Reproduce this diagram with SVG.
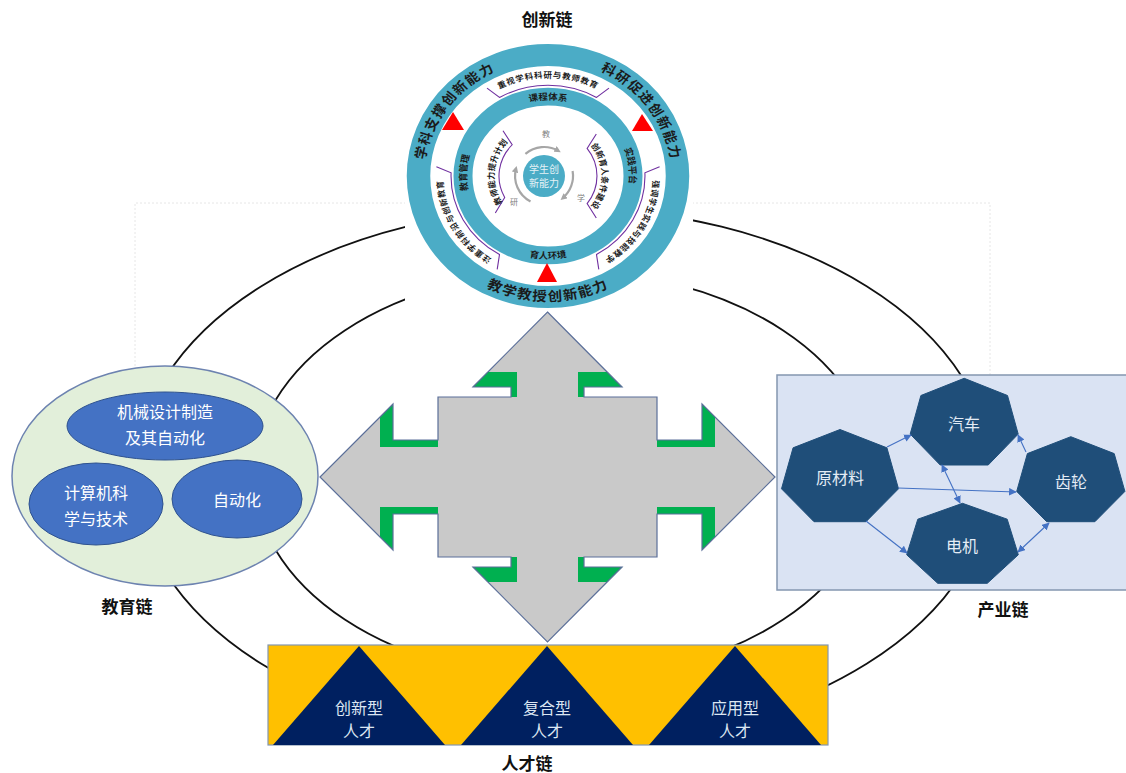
<svg xmlns="http://www.w3.org/2000/svg" width="1126" height="773" viewBox="0 0 1126 773">
<defs>
<style>
text{font-family:"Noto Sans CJK SC","Noto Sans",sans-serif;}
.chain{font-size:17px;font-weight:bold;fill:#111;text-anchor:middle}
.rl{font-weight:bold;fill:#1b1b1b;text-anchor:middle}
.tab{fill:none;stroke:#7030a0;stroke-width:1.1}
.red{fill:#ff0000}
.edu{fill:#4472c4;stroke:#2f528f;stroke-width:1}
.wt{fill:#ffffff;font-size:16px;text-anchor:middle}
.hept{fill:#1f4e79;stroke:#1f4e79;stroke-width:1}
.ht{fill:#e4ecf5;font-size:16px;text-anchor:middle}
.lnk{stroke:#4472c4;stroke-width:1.1;fill:none}
.ell{fill:none;stroke:#111;stroke-width:1.8}
.tal{fill:#002060}
.tt{fill:#dce6f2;font-size:16px;text-anchor:middle}
.grn{fill:#00b050}
.carc{fill:none;stroke:#a6a6a6;stroke-width:2.2}
.cl{font-size:8px;fill:#7f7f7f;text-anchor:middle}
</style>
<marker id="ah" viewBox="0 0 10 10" refX="9" refY="5" markerWidth="7" markerHeight="7" orient="auto-start-reverse"><path d="M0,0 L10,5 L0,10 z" fill="#4472c4"/></marker>
<marker id="ga" viewBox="0 0 10 10" refX="6" refY="5" markerWidth="3" markerHeight="3" orient="auto"><path d="M0,0 L10,5 L0,10 z" fill="#a6a6a6"/></marker>
<path id="pl" d="M -122.1 21.5 A 124 124 0 0 1 -15.1 -123.1"/>
<path id="pr" d="M 15.1 -123.1 A 124 124 0 0 1 122.1 21.5"/>
<path id="pb" d="M -116 67 A 134 134 0 0 0 116 67"/>
<path id="pmt" d="M -52.3 -62.4 A 81.4 81.4 0 0 1 52.3 -62.4"/>
<path id="pmr" d="M 52.3 -62.4 A 81.4 81.4 0 0 1 66.7 46.7"/>
<path id="pml" d="M -66.7 46.7 A 81.4 81.4 0 0 1 -62.4 -52.3"/>
<path id="pmb" d="M -67.9 57 A 88.6 88.6 0 0 0 67.9 57"/>
<path id="pt1" d="M -80.4 -67.5 A 105 105 0 0 1 80.4 -67.5"/>
<path id="pt2" d="M 98.7 -35.9 A 105 105 0 0 1 18.2 103.4"/>
<path id="pt3" d="M -18.2 103.4 A 105 105 0 0 1 -98.7 -35.9"/>
<path id="pil" d="M -38 38 A 53.8 53.8 0 0 1 -30.9 -44.1"/>
<path id="pir" d="M 34.6 -41.2 A 53.8 53.8 0 0 1 34.6 41.2"/>
</defs>

<path d="M 135 370 V 203 H 990 V 375" fill="none" stroke="#e6e6e6" stroke-width="1" stroke-dasharray="2 2"/>

<g id="connectors">
  <ellipse class="ell" cx="564" cy="475" rx="428" ry="267"/>
  <ellipse class="ell" cx="564" cy="475" rx="310" ry="204.5"/>
</g>

<g id="innovation-chain">
  <rect x="405" y="38" width="288" height="279" fill="#ffffff"/>
  <g transform="translate(548,176) scale(1,0.935)">
    <circle r="129.5" fill="none" stroke="#4bacc6" stroke-width="23.5"/>
    <circle r="85" fill="none" stroke="#4bacc6" stroke-width="19"/>
    <text class="rl" font-size="14" letter-spacing="1.5"><textPath href="#pl" startOffset="50%">学科支撑创新能力</textPath></text>
    <text class="rl" font-size="14" letter-spacing="1.5"><textPath href="#pr" startOffset="50%">科研促进创新能力</textPath></text>
    <text class="rl" font-size="14.5" letter-spacing="1.5"><textPath href="#pb" startOffset="50%">教学教授创新能力</textPath></text>
    <text class="rl" font-size="9.5"><textPath href="#pmt" startOffset="50%">课程体系</textPath></text>
    <text class="rl" font-size="9.5"><textPath href="#pmr" startOffset="50%">实践平台</textPath></text>
    <text class="rl" font-size="9.5"><textPath href="#pml" startOffset="50%">教育管理</textPath></text>
    <text class="rl" font-size="9.5"><textPath href="#pmb" startOffset="50%">育人环境</textPath></text>
    <path class="tab" d="M -61 -93.9 L -48.5 -84 A 97 97 0 0 1 48.5 -84 L 61 -93.9"/>
    <path class="tab" d="M 111.6 -9.8 L 96.9 -3.4 A 97 97 0 0 1 48.5 84 L 50.8 99.8"/>
    <path class="tab" d="M -50.8 99.8 L -48.5 84 A 97 97 0 0 1 -96.9 -3.4 L -111.6 -9.8"/>
    <text class="rl" font-size="8.5" letter-spacing="0.7"><textPath href="#pt1" startOffset="50%">重视学科科研与教师教育</textPath></text>
    <text class="rl" font-size="8.5" letter-spacing="0.7"><textPath href="#pt2" startOffset="50%">强调学生实践与技能教学</textPath></text>
    <text class="rl" font-size="8.5" letter-spacing="0.7"><textPath href="#pt3" startOffset="50%">注重学科前沿与创新教育</textPath></text>
    <path class="tab" d="M -52.7 39.7 L -43.3 23 A 49 49 0 0 1 -35.8 -33.4 L -45 -48.3"/>
    <path class="tab" d="M 48.3 -45 L 39.1 -29.5 A 49 49 0 0 1 39.1 29.5 L 48.3 45"/>
    <text class="rl" font-size="8.5" letter-spacing="0.3"><textPath href="#pil" startOffset="50%">教师能力提升计划</textPath></text>
    <text class="rl" font-size="8.5" letter-spacing="0.3"><textPath href="#pir" startOffset="50%">创新育人条件建设</textPath></text>
  </g>
  <polygon class="red" points="453,112 442,130 464,130"/>
  <polygon class="red" points="642,114 632,131 653,131"/>
  <polygon class="red" points="547,263 537,282 557,282"/>
  <path class="carc" d="M 525.4 153.8 A 29 29 0 0 1 558.5 150.9" marker-end="url(#ga)"/>
  <path class="carc" d="M 572.6 171 A 29 29 0 0 1 562.6 198.2" marker-end="url(#ga)"/>
  <path class="carc" d="M 530.5 201.5 A 29 29 0 0 1 516 168.5" marker-end="url(#ga)"/>
  <text class="cl" x="546" y="137">教</text>
  <text class="cl" x="581" y="201">学</text>
  <text class="cl" x="514" y="205">研</text>
  <circle cx="544" cy="176" r="21" fill="#4bacc6"/>
  <text x="544" y="173" font-size="10" fill="#e6f2f6" text-anchor="middle">学生创</text>
  <text x="544" y="187" font-size="10" fill="#e6f2f6" text-anchor="middle">新能力</text>
  <text class="chain" x="547" y="26">创新链</text>
</g>

<g id="education-chain">
  <ellipse cx="165" cy="476" rx="153" ry="110" fill="#e2efda" stroke="#6d83b0" stroke-width="1.5"/>
  <ellipse class="edu" cx="165" cy="426" rx="98" ry="34"/>
  <ellipse class="edu" cx="96" cy="504" rx="67" ry="41"/>
  <ellipse class="edu" cx="237" cy="499" rx="65" ry="39"/>
  <text class="wt" x="165" y="418">机械设计制造</text>
  <text class="wt" x="165" y="444">及其自动化</text>
  <text class="wt" x="96" y="499">计算机科</text>
  <text class="wt" x="96" y="525">学与技术</text>
  <text class="wt" x="237" y="506">自动化</text>
  <text class="chain" x="127" y="613">教育链</text>
</g>

<g id="center-arrow">
  <polygon points="547.5,312 622,387 584,387 584,397 657,397 657,440 702,440 702,404 775,477 702,550 702,514 657,514 657,557 584,557 584,567 622,567 547.5,642 473,567 511,567 511,557 438,557 438,514 393,514 393,550 320,477 393,404 393,440 438,440 438,397 511,397 511,387 473,387" fill="#c9c9c9" stroke="none"/>
  <polygon class="grn" points="487.5,372 517,372 517,397 511,397 511,387 472.5,387"/>
  <polygon class="grn" points="607.5,372 578,372 578,397 584,397 584,387 622.5,387"/>
  <polygon class="grn" points="487.5,582 517,582 517,557 511,557 511,567 472.5,567"/>
  <polygon class="grn" points="607.5,582 578,582 578,557 584,557 584,567 622.5,567"/>
  <polygon class="grn" points="380,417 393,404 393,440 438,440 438,447 380,447"/>
  <polygon class="grn" points="380,537 393,550 393,514 438,514 438,507 380,507"/>
  <polygon class="grn" points="715,417 702,404 702,440 657,440 657,447 715,447"/>
  <polygon class="grn" points="715,537 702,550 702,514 657,514 657,507 715,507"/>
  <polygon points="547.5,312 622,387 584,387 584,397 657,397 657,440 702,440 702,404 775,477 702,550 702,514 657,514 657,557 584,557 584,567 622,567 547.5,642 473,567 511,567 511,557 438,557 438,514 393,514 393,550 320,477 393,404 393,440 438,440 438,397 511,397 511,387 473,387" fill="none" stroke="#5b6f99" stroke-width="1.2"/>
</g>

<g id="industry-chain">
  <rect x="777" y="375" width="360" height="215" fill="#dae3f3" stroke="#8497b0" stroke-width="1.5"/>
  <g id="n-raw"><polygon class="hept" points="840,429.5 886.9,447.8 898.5,488.8 866,521.7 814,521.7 781.5,488.8 793.1,447.8"/><text class="ht" x="840" y="484">原材料</text></g>
  <g id="n-car"><polygon class="hept" points="964.2,378.3 1007.5,395.5 1018.2,434.1 988.2,465 940.2,465 910.2,434.1 920.9,395.5"/><text class="ht" x="964" y="430">汽车</text></g>
  <g id="n-gear"><polygon class="hept" points="1070.8,436.7 1114.2,453.6 1124.9,491.4 1094.9,521.7 1046.7,521.7 1016.7,491.4 1027.4,453.6"/><text class="ht" x="1071" y="488">齿轮</text></g>
  <g id="n-motor"><polygon class="hept" points="962.5,503.3 1007.2,519.2 1018.3,554.8 987.3,583.3 937.7,583.3 906.7,554.8 917.8,519.2"/><text class="ht" x="962" y="552">电机</text></g>
  <g id="industry-links">
    <line class="lnk" x1="887" y1="447" x2="911" y2="435" marker-end="url(#ah)"/>
    <line class="lnk" x1="898" y1="488" x2="1016" y2="492" marker-end="url(#ah)"/>
    <line class="lnk" x1="866" y1="521" x2="907" y2="553" marker-end="url(#ah)"/>
    <line class="lnk" x1="942" y1="465" x2="960" y2="503" marker-start="url(#ah)" marker-end="url(#ah)"/>
    <line class="lnk" x1="1026" y1="452" x2="1018" y2="435" marker-end="url(#ah)"/>
    <line class="lnk" x1="1018" y1="552" x2="1049" y2="523" marker-start="url(#ah)" marker-end="url(#ah)"/>
  </g>
  <text class="chain" x="1003" y="616">产业链</text>
</g>

<g id="talent-chain">
  <rect x="268" y="645" width="560" height="100" fill="#ffc000" stroke="#8497b0" stroke-width="1.2"/>
  <polygon class="tal" points="359,646 273,745 445,745"/>
  <polygon class="tal" points="547,646 461,745 633,745"/>
  <polygon class="tal" points="735,646 649,745 821,745"/>
  <text class="tt" x="359" y="714">创新型</text>
  <text class="tt" x="359" y="737">人才</text>
  <text class="tt" x="547" y="714">复合型</text>
  <text class="tt" x="547" y="737">人才</text>
  <text class="tt" x="735" y="714">应用型</text>
  <text class="tt" x="735" y="737">人才</text>
  <text class="chain" x="527" y="770">人才链</text>
</g>
</svg>
